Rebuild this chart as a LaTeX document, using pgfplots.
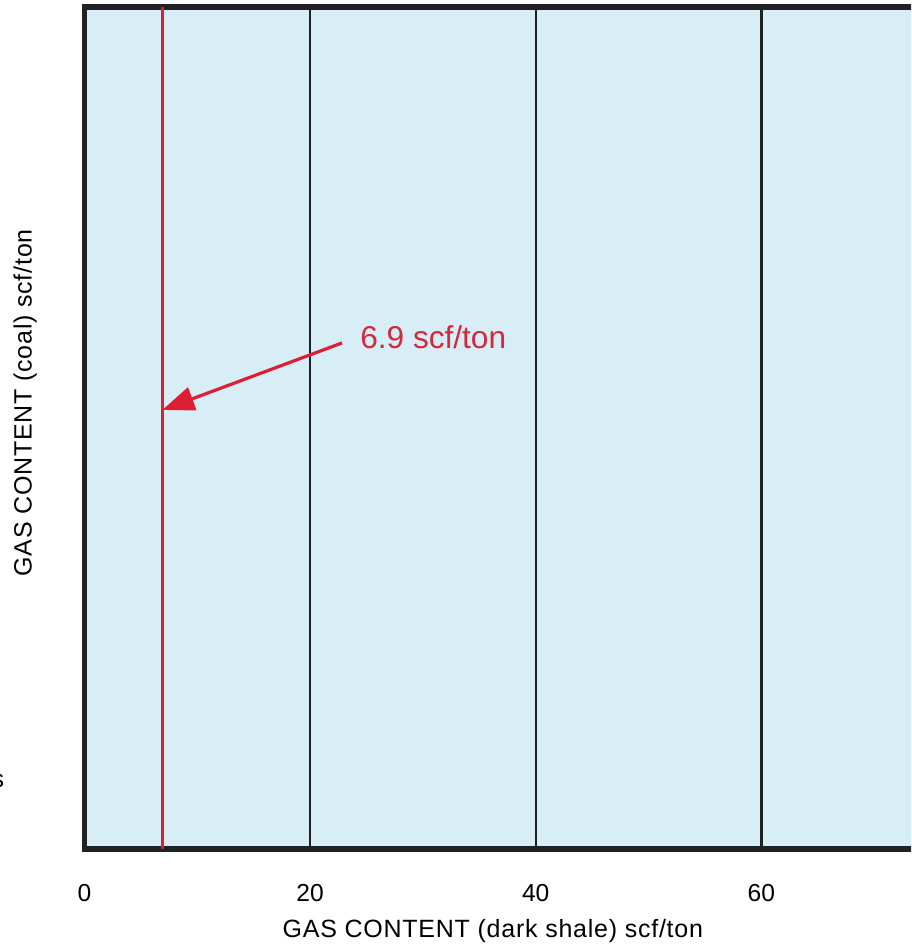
\documentclass[border=0pt]{standalone}
\usepackage{pgfplots}
\pgfplotsset{compat=1.18}
\usepackage{fontspec}
\setmainfont{Liberation Sans}
\newfontfamily\lblfont[LetterSpace=3]{Liberation Sans}
\usetikzlibrary{arrows.meta}
\definecolor{bgblue}{RGB}{216,238,246}
\definecolor{frame}{RGB}{30,34,34}
\definecolor{redline}{RGB}{222,30,52}
\definecolor{redtext}{RGB}{208,42,60}
\begin{document}
\begin{tikzpicture}
\clip (0,0) rectangle (455.5pt,473.5pt);
\begin{axis}[
  at={(42.25pt,49pt)}, anchor=south west,
  scale only axis, width=451.2pt, height=421pt,
  xmin=0, xmax=80, ymin=0, ymax=100,
  axis background/.style={fill=bgblue},
  axis line style={line width=2.8pt, frame},
  xtick={0,20,40,60}, ytick=\empty,
  major tick length=0pt,
  xmajorgrids, grid style={line width=1.2pt, frame},
  xticklabel style={anchor=base, yshift=-26pt, font=\fontsize{12.3}{14}\selectfont},
  /pgf/number format/assume math mode=true,
  clip=false,
]
\addplot[redline, line width=1.4pt] coordinates {(6.9,0) (6.9,100)};
\draw[redline, line width=1.6pt, -{Triangle[length=16pt,width=12pt]}] (axis cs:22.83,60.1) -- (axis cs:6.9,52.14);
\node[anchor=base west, inner sep=0, text=redtext, font=\fontsize{15.8}{18}\selectfont] at (axis cs:24.42,59.5) {6.9 scf/ton};
\node[anchor=base, inner sep=0, font=\lblfont\fontsize{12.5}{14}\selectfont] at (axis cs:36.2,-10.53) {GAS CONTENT (dark shale) scf/ton};
\node[anchor=center, rotate=90, inner sep=0, font=\lblfont\fontsize{12.5}{14}\selectfont] at (axis cs:-5.27,52.97) {GAS CONTENT (coal) scf/ton};
\node[anchor=base east, inner sep=0, font=\lblfont\fontsize{12.5}{14}\selectfont] at (axis cs:-7.09,7.36) {s};
\end{axis}
\end{tikzpicture}
\end{document}
